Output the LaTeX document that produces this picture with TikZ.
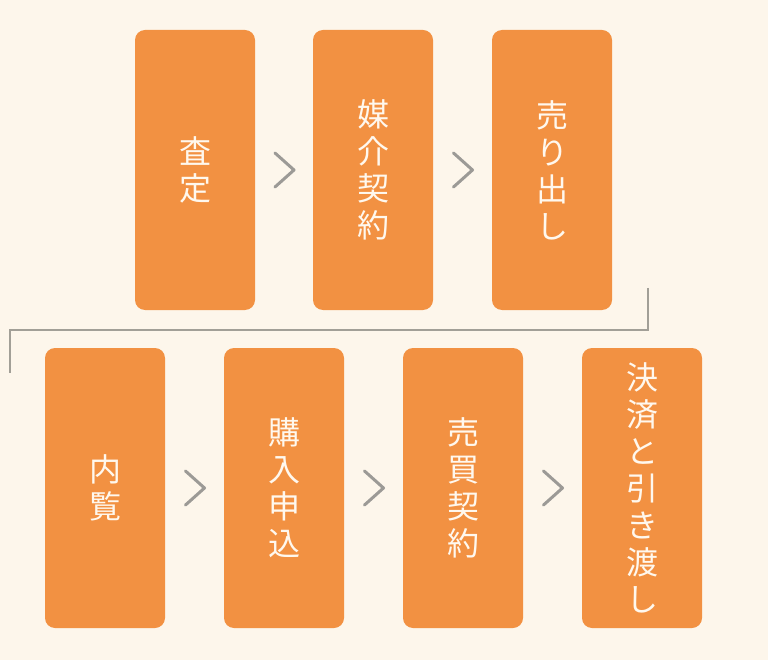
\documentclass[tikz,border=0pt]{standalone}
\usepackage{fontspec}
\newfontfamily\cjk{Noto Sans CJK JP}
\usetikzlibrary{calc}
\definecolor{bg}{HTML}{FDF6EB}
\definecolor{boxor}{HTML}{F29142}
\definecolor{txt}{HTML}{FFF8EE}
\definecolor{chevgray}{HTML}{9C9A96}
\definecolor{linegray}{HTML}{A29F97}
\tikzset{
  x=1pt, y=1pt,
  stepbox/.style={fill=boxor, rounded corners=10pt, minimum width=120pt, minimum height=280pt,
    inner sep=0pt, text=txt, align=center, font=\cjk\fontsize{32}{37}\selectfont},
  chev/.style={draw=chevgray, line width=3pt, line cap=round, line join=round},
  flow/.style={draw=linegray, line width=2pt}
}
\begin{document}
\begin{tikzpicture}
\fill[bg] (0,0) rectangle (768,-660);
\useasboundingbox (0,0) rectangle (768,-660);
\node[stepbox] (a1) at (195,-170) {査\\定};
\node[stepbox] (a2) at (373,-170) {媒\\介\\契\\約};
\node[stepbox] (a3) at (552,-170) {売\\り\\出\\し};
\node[stepbox] (b1) at (105,-488) {内\\覧};
\node[stepbox] (b2) at (284,-488) {購\\入\\申\\込};
\node[stepbox] (b3) at (463,-488) {売\\買\\契\\約};
\node[stepbox] (b4) at (642,-488) {決\\済\\と\\引\\き\\渡\\し};
\foreach \p/\q in {a1/a2,a2/a3,b1/b2,b2/b3,b3/b4}{
  \draw[chev] ($(\p.east)!.5!(\q.west)+(-9,17)$) -- ++(19,-17) -- ++(-19,-17);
}
\coordinate (c1) at (648,-288);
\coordinate (c2) at (10,-330);
\coordinate (c3) at (10,-373);
\draw[flow] (c1) |- (c2) -- (c3);
\end{tikzpicture}
\end{document}
